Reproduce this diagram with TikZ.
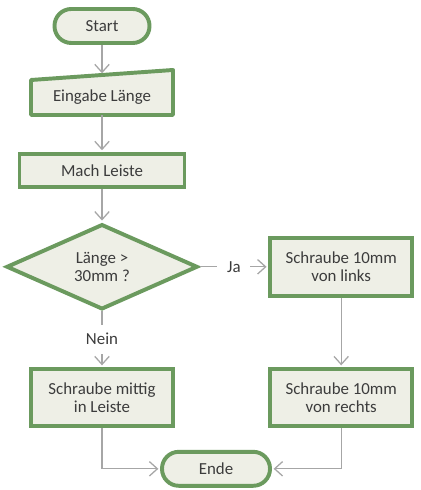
\documentclass[tikz,border=0pt]{standalone}
\usepackage{fontspec}
\setmainfont{Carlito}
\usepackage{tikz}
\usetikzlibrary{arrows.meta,shapes.geometric}
\definecolor{fcGreen}{HTML}{6B9A5E}
\definecolor{fcFill}{HTML}{EEEFE6}
\definecolor{fcText}{HTML}{3C3C3C}
\definecolor{fcGray}{HTML}{A6A6A6}
\tikzset{
  flow/.style={-{Straight Barb[length=2mm,width=3.6mm]}, line width=0.9pt,
    draw=fcGray, shorten >=1.2pt},
  terminal/.style={draw=fcGreen, fill=fcFill, line width=2.8pt,
    rounded corners=4.2mm, minimum height=8.5mm, text=fcText,
    font=\fontsize{12}{13}\selectfont},
  process box/.style={draw=fcGreen, fill=fcFill, line width=2.8pt,
    align=center, text=fcText, font=\fontsize{12}{13}\selectfont},
  decision box/.style={diamond, draw=fcGreen, fill=fcFill, line width=2.8pt,
    align=center, inner sep=0pt, text=fcText,
    font=\fontsize{12}{13}\selectfont},
  edge label/.style={fill=white, text=fcText, inner xsep=7pt, inner ysep=6pt,
    font=\fontsize{12}{13}\selectfont}
}
\begin{document}
\begin{tikzpicture}
  \useasboundingbox[fill=white] (0,0) rectangle (10.5,12.25);

  \node[terminal, minimum width=2.375cm] (start) at (2.55,11.6) {Start};

  % manual input
  \draw[draw=fcGreen, fill=fcFill, line width=2.8pt, line join=round]
    (0.775,9.375) -- (0.775,10.25) -- (4.325,10.5) -- (4.325,9.375) -- cycle;
  \node[text=fcText, font=\fontsize{12}{13}\selectfont] (input) at (2.55,9.83)
    {Eingabe Länge};
  \coordinate (inputtop) at (2.55,10.375);
  \coordinate (inputbot) at (2.55,9.375);

  \node[process box, minimum width=4.125cm, minimum height=8.25mm]
    (leiste) at (2.55,7.99) {Mach Leiste};
  \node[decision box, minimum width=4.78cm, minimum height=2cm]
    (laenge) at (2.55,5.58) {Länge >\\30mm ?};
  \node[process box, minimum width=3.55cm, minimum height=14.5mm]
    (links) at (8.53,5.58) {Schraube 10mm\\von links};
  \node[process box, minimum width=3.55cm, minimum height=14.3mm]
    (mittig) at (2.55,2.31) {Schraube mittig\\in Leiste};
  \node[process box, minimum width=3.55cm, minimum height=14.3mm]
    (rechts) at (8.53,2.31) {Schraube 10mm\\von rechts};
  \node[terminal, minimum width=2.7cm] (ende) at (5.4,0.53) {Ende};

  \draw[flow] (start) -- (inputtop);
  \draw[flow] (inputbot) -- (leiste);
  \draw[flow] (leiste) -- (laenge);
  \draw[flow] (laenge) -- node[edge label] {Ja} (links);
  \draw[flow] (laenge) -- node[edge label] {Nein} (mittig);
  \draw[flow] (links) -- (rechts);
  \draw[flow] (mittig) |- (ende);
  \draw[flow] (rechts) |- (ende);
\end{tikzpicture}
\end{document}
